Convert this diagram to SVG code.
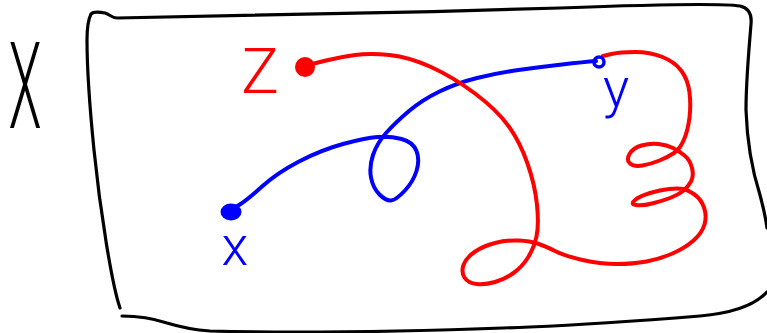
<svg xmlns="http://www.w3.org/2000/svg" width="767" height="333" viewBox="0 0 767 333">
<style>
.frame{fill:none;stroke:#000;stroke-width:3.2;stroke-linecap:round;stroke-linejoin:round}
.blue{fill:none;stroke:#0000ff;stroke-width:4;stroke-linecap:round;stroke-linejoin:round}
.red{fill:none;stroke:#ff0000;stroke-width:4;stroke-linecap:round;stroke-linejoin:round}
.lbl{font-family:Roboto,"Liberation Sans",sans-serif;font-weight:300;text-anchor:middle}
</style>
<rect width="767" height="333" fill="#fff"/>
<g id="set-X">
<path class="frame" d="M120,308 C112,285 100,210 94,150 C90,110 87,70 87,40 C87,28 88,20 91,14 C94,11 100,12 105,13 C109,14 112,18 117,18 C200,17 400,13 560,8 C640,5 720,3 740,6 C749,8 752,14 751,24 C749,50 746,80 746,110 C747,140 752,170 760,195 C764,210 766,220 767,228"/>
<path class="frame" d="M122,316 C140,316 152,318 167,323 C180,327 195,330 210,331 C280,333 400,332 530,327 C600,324 650,320 700,316 C735,313 755,305 767,292"/>
<text class="lbl" transform="translate(25,128) scale(0.45,1)" font-size="120" fill="#000">X</text>
</g>
<g id="connectors">
<path id="edge-x-y" class="blue" d="M231,210 L239,205 Q247,200 262,186.5 Q277,173 299,161.5 Q321,150 343,144 Q365,138 377.5,137 Q390,136 401.5,139 Q413,142 416.5,151 Q420,160 416.5,171 Q413,182 404.5,191 Q396,200 391,200.5 Q386,201 379.5,194.5 Q373,188 371,177.5 Q369,167 373,155 Q377,143 386.5,132.5 Q396,122 409,111 Q422,100 439.5,91.5 Q457,83 477,78 Q497,73 518.5,70 Q540,67 562,64.5 Q584,62 596,61"/>
<path id="edge-z-y" class="red" d="M312,64 L326,60.5 Q340,57 355,55 Q370,53 389.5,55 Q409,57 431,67 Q453,77 475,93.5 Q497,110 508.5,126 Q520,142 527.5,163.5 Q535,185 537,205 Q539,225 536.5,236.5 Q534,248 528,257.5 Q522,267 513.5,273 Q505,279 495,282 Q485,285 476.5,284 Q468,283 464.5,277.5 Q461,272 463.5,265 Q466,258 474.5,252 Q483,246 495,243 Q507,240 518.5,240.5 Q530,241 537.5,243.5 Q545,246 555,251 Q565,256 582.5,260 Q600,264 616.5,264 Q633,264 646.5,261.5 Q660,259 672.5,253.5 Q685,248 693.5,240.5 Q702,233 704.5,224.5 Q707,216 704,207.5 Q701,199 694.5,194.5 Q688,190 683,189 Q678,188 669,189 Q660,190 650,193 Q640,196 635,200 Q630,204 636,205 Q642,206 652,203.5 Q662,201 670,198 Q678,195 683,191 Q688,187 691,181.5 Q694,176 692,168 Q690,160 684.5,155.5 Q679,151 673,148 Q667,145 658.5,144 Q650,143 641.5,145.5 Q633,148 629.5,154 Q626,160 630,163.5 Q634,167 642.5,165.5 Q651,164 659.5,160.5 Q668,157 674,153 Q680,149 684,139.5 Q688,130 689.5,117.5 Q691,105 689.5,92.5 Q688,80 681.5,71 Q675,62 662.5,57 Q650,52 635,52 Q620,52 611.5,54 L603,56"/>
</g>
<g id="node-z">
<circle cx="305" cy="67" r="10" fill="#ff0000"/>
<text class="lbl" x="260" y="93" font-size="63" fill="#ff0000">Z</text>
</g>
<g id="node-x">
<ellipse cx="231" cy="212" rx="10.5" ry="8.5" fill="#0000ff"/>
<text class="lbl" x="235" y="265" font-size="55" fill="#0000ff">x</text>
</g>
<g id="node-y">
<circle cx="599" cy="62" r="5" fill="none" stroke="#0000ff" stroke-width="3.5"/>
<text class="lbl" x="616" y="107" font-size="55" fill="#0000ff">y</text>
</g>
</svg>
